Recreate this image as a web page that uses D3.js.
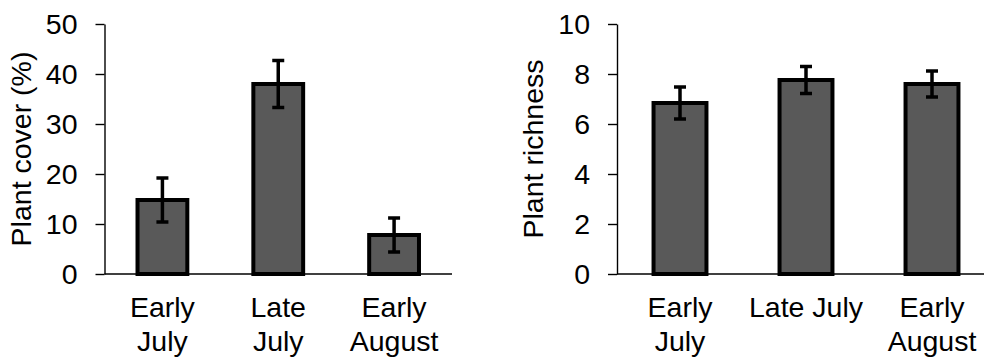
<!DOCTYPE html>
<html>
<head>
<meta charset="utf-8">
<script src="https://cdn.jsdelivr.net/npm/d3@7"></script>
<style>
  body { margin: 0; background: #fff; }
  svg { display: block; font-family: "Liberation Sans", Arial, sans-serif; }
</style>
</head>
<body>
<svg id="chart" width="984" height="361"></svg>
<script>
// data
const periods = ['Early July', 'Late July', 'Early August']
const coverLabels = [['Early', 'July'], ['Late', 'July'], ['Early', 'August']]
const richnessLabels = [['Early', 'July'], ['Late July'], ['Early', 'August']]
const coverMean = [14.8, 38.0, 7.8]
const coverErr = [4.4, 4.7, 3.4]
const richnessMean = [6.84, 7.76, 7.6]
const richnessErr = [0.64, 0.54, 0.52]
const coverTicks = [0, 10, 20, 30, 40, 50]
const richnessTicks = [0, 2, 4, 6, 8, 10]

const fontSize = 28.5
const barFill = '#595959'
const svg = d3.select('#chart')

function drawPanel ({ x0, x1, top, bottom, yMax, ticks, means, errs, labels, title, titleX, pad }) {
  const g = svg.append('g')

  const x = d3.scaleBand()
    .domain(periods)
    .range([x0, x1])
    .paddingInner(pad)
    .paddingOuter(pad / 2)

  const y = d3.scaleLinear()
    .domain([0, yMax])
    .range([bottom, top])

  // y axis
  const yAxis = g.append('g')
    .attr('transform', `translate(${x0},0)`)
    .call(d3.axisLeft(y).tickValues(ticks).tickSize(9).tickSizeOuter(0).tickPadding(18))
  yAxis.select('.domain').attr('stroke', '#000').attr('stroke-width', 1.4)
  yAxis.selectAll('.tick line').attr('stroke', '#000').attr('stroke-width', 1.4)
  yAxis.selectAll('.tick text')
    .attr('font-size', fontSize)
    .attr('font-family', '"Liberation Sans", Arial, sans-serif')
    .attr('fill', '#000')

  // bars
  g.selectAll('rect.bar')
    .data(means)
    .join('rect')
    .attr('class', 'bar')
    .attr('x', (d, i) => x(periods[i]))
    .attr('width', x.bandwidth())
    .attr('y', d => y(d))
    .attr('height', d => y(0) - y(d))
    .attr('fill', barFill)
    .attr('stroke', '#000')
    .attr('stroke-width', 4)

  // x axis line (drawn over the bars' base)
  g.append('line')
    .attr('x1', x0).attr('x2', x1)
    .attr('y1', y(0)).attr('y2', y(0))
    .attr('stroke', '#000')
    .attr('stroke-width', 1.4)

  // error bars
  const capW = 12
  const eb = g.selectAll('g.err')
    .data(means)
    .join('g')
    .attr('class', 'err')
    .attr('transform', (d, i) => `translate(${x(periods[i]) + x.bandwidth() / 2},0)`)
  eb.append('line')
    .attr('y1', (d, i) => y(d + errs[i]))
    .attr('y2', (d, i) => y(d - errs[i]))
    .attr('stroke', '#000').attr('stroke-width', 3.5)
  eb.append('line')
    .attr('x1', -capW / 2).attr('x2', capW / 2)
    .attr('y1', (d, i) => y(d + errs[i])).attr('y2', (d, i) => y(d + errs[i]))
    .attr('stroke', '#000').attr('stroke-width', 3.5)
  eb.append('line')
    .attr('x1', -capW / 2).attr('x2', capW / 2)
    .attr('y1', (d, i) => y(d - errs[i])).attr('y2', (d, i) => y(d - errs[i]))
    .attr('stroke', '#000').attr('stroke-width', 3.5)

  // category labels
  const cat = g.selectAll('text.cat')
    .data(labels)
    .join('text')
    .attr('class', 'cat')
    .attr('text-anchor', 'middle')
    .attr('font-size', fontSize)
    .attr('fill', '#000')
    .attr('x', (d, i) => x(periods[i]) + x.bandwidth() / 2)
    .attr('y', bottom + 43)
  cat.selectAll('tspan')
    .data(d => d)
    .join('tspan')
    .attr('x', function () { return this.parentNode.getAttribute('x') })
    .attr('dy', (d, i) => i === 0 ? 0 : 34)
    .text(d => d)

  // y title
  g.append('text')
    .attr('transform', `translate(${titleX},${(top + bottom) / 2}) rotate(-90)`)
    .attr('text-anchor', 'middle')
    .attr('dy', '0.35em')
    .attr('font-size', fontSize)
    .attr('fill', '#000')
    .text(title)
}

drawPanel({
  x0: 104.5, x1: 452, top: 24, bottom: 274, yMax: 50,
  ticks: coverTicks, means: coverMean, errs: coverErr,
  labels: coverLabels, title: 'Plant cover (%)', titleX: 21, pad: 0.57
})

drawPanel({
  x0: 617, x1: 995, top: 24, bottom: 274, yMax: 10,
  ticks: richnessTicks, means: richnessMean, errs: richnessErr,
  labels: richnessLabels, title: 'Plant richness', titleX: 533, pad: 0.58
})
</script>
</body>
</html>
